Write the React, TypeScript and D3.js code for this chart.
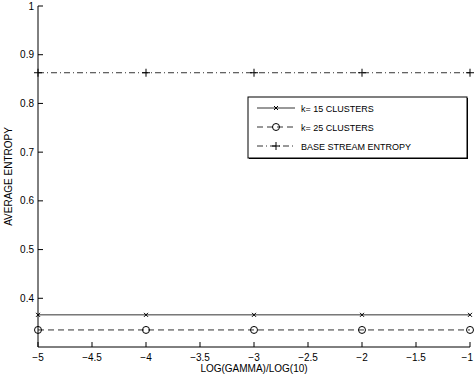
import React from "react";
import * as d3 from "d3";

const logGamma = [-5, -4, -3, -2, -1];
const k15 = [0.366, 0.366, 0.366, 0.366, 0.366];
const k25 = [0.335, 0.335, 0.335, 0.335, 0.335];
const baseEntropy = [0.863, 0.863, 0.863, 0.863, 0.863];
const xTicks = [-5, -4.5, -4, -3.5, -3, -2.5, -2, -1.5, -1];
const yTicks = [0.4, 0.5, 0.6, 0.7, 0.8, 0.9, 1];
const legendLabels = ["k= 15 CLUSTERS", "k= 25 CLUSTERS", "BASE STREAM ENTROPY"];

const W = 474;
const H = 378;
const M = { left: 38, right: 4, top: 6, bottom: 31 };
const FONT = "Liberation Sans, Arial, sans-serif";
const INK = "#333";

export default function App() {
  const x = d3.scaleLinear().domain([-5, -1]).range([M.left, W - M.right]);
  const y = d3.scaleLinear().domain([0.3, 1]).range([H - M.bottom, M.top]);
  const line = d3
    .line<number>()
    .x((_, i) => x(logGamma[i]))
    .y((d) => y(d));

  const cross = (cx: number, cy: number, key: string, s = 2) => (
    <g key={key} stroke="#000" strokeWidth={1}>
      <line x1={cx - s} y1={cy - s} x2={cx + s} y2={cy + s} />
      <line x1={cx - s} y1={cy + s} x2={cx + s} y2={cy - s} />
    </g>
  );
  const circle = (cx: number, cy: number, key: string) => (
    <circle key={key} cx={cx} cy={cy} r={3.5} fill="none" stroke="#000" strokeWidth={1} />
  );
  const plus = (cx: number, cy: number, key: string) => (
    <g key={key} stroke="#000" strokeWidth={1}>
      <line x1={cx - 4} y1={cy} x2={cx + 4} y2={cy} />
      <line x1={cx} y1={cy - 4} x2={cx} y2={cy + 4} />
    </g>
  );

  const series = [
    { data: k15, dash: undefined, marker: cross },
    { data: k25, dash: "6,4", marker: circle },
    { data: baseEntropy, dash: "6,3,1,3", marker: plus },
  ];

  const y0 = H - M.bottom;
  const lgX = 248;
  const lgY = 97;
  const lgW = 219;
  const lgH = 61;
  const rowY = [108, 127, 146];

  return (
    <svg
      width={W}
      height={H}
      style={{ position: "absolute", left: 0, top: 0, background: "#fff" }}
      fontFamily={FONT}
    >
      <rect width={W} height={H} fill="#fff" />
      {/* series lines and markers */}
      {series.map((s, si) => (
        <g key={si}>
          <path
            d={line(s.data) || ""}
            fill="none"
            stroke={INK}
            strokeWidth={1}
            strokeDasharray={s.dash}
          />
          {s.data.map((v, i) => s.marker(x(logGamma[i]), y(v), `${si}-${i}`))}
        </g>
      ))}

      {/* axes */}
      <line x1={M.left} y1={y0} x2={W - M.right} y2={y0} stroke="#000" strokeWidth={1} />
      <line x1={M.left} y1={y0} x2={M.left} y2={M.top} stroke="#000" strokeWidth={1} />
      {xTicks.map((t) => {
        const tx = x(t);
        const last = tx > W - 12;
        return (
          <g key={`x${t}`}>
            <line x1={tx} y1={y0} x2={tx} y2={y0 - 5} stroke="#000" />
            <text
              x={last ? W - 1 : tx}
              y={y0 + 14}
              fontSize={10}
              textAnchor={last ? "end" : "middle"}
              fill="#000"
            >
              {t.toString().replace("-", "\u2212")}
            </text>
          </g>
        );
      })}
      {yTicks.map((t) => (
        <g key={`y${t}`}>
          <line x1={M.left} y1={y(t)} x2={M.left + 5} y2={y(t)} stroke="#000" />
          <text x={M.left - 4} y={y(t) + 3.5} fontSize={10} textAnchor="end" fill="#000">
            {t}
          </text>
        </g>
      ))}
      <text x={(M.left + W - M.right) / 2} y={H - 6} fontSize={10} textAnchor="middle" fill="#000">
        LOG(GAMMA)/LOG(10)
      </text>
      <text
        transform={`translate(12,${(M.top + y0) / 2}) rotate(-90)`}
        fontSize={10}
        textAnchor="middle"
        fill="#000"
      >
        AVERAGE ENTROPY
      </text>

      {/* legend */}
      <rect x={lgX + 1} y={lgY + 1} width={lgW} height={lgH} fill="#000" />
      <rect x={lgX} y={lgY} width={lgW} height={lgH} fill="#fff" stroke="#000" strokeWidth={1} />
      {series.map((s, i) => (
        <g key={`lg${i}`}>
          <line x1={257} y1={rowY[i]} x2={295} y2={rowY[i]} stroke={INK} strokeDasharray={s.dash} />
          {s.marker(276, rowY[i], `lgm${i}`)}
          <text x={301} y={rowY[i] + 3.5} fontSize={9} fill="#000">
            {legendLabels[i]}
          </text>
        </g>
      ))}
    </svg>
  );
}
